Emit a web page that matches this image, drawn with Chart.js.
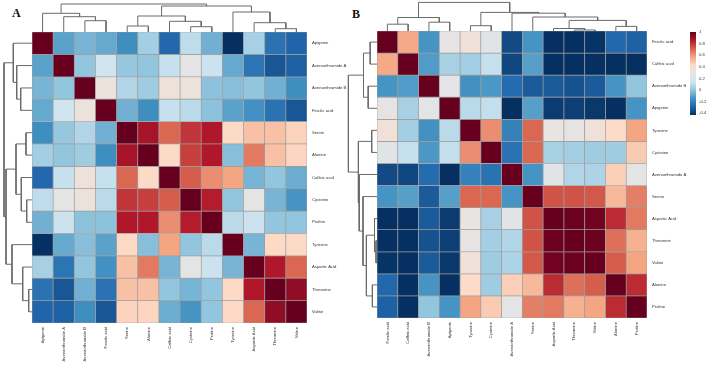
<!DOCTYPE html>
<html>
<head>
<meta charset="utf-8">
<script src="https://cdn.jsdelivr.net/npm/chart.js@4.4.1/dist/chart.umd.min.js"></script>
<style>
  body { margin: 0; background: #fff; width: 708px; height: 366px; position: relative; overflow: hidden; }
  .box { position: absolute; }
  .box canvas { display: block; }
  .tag { position: absolute; font-family: "Liberation Serif", "DejaVu Serif", serif; font-weight: bold; font-size: 12px; line-height: 12px; color: #111; }
</style>
</head>
<body>
<div class="tag" style="left:12px;top:7px">A</div>
<div class="tag" style="left:352px;top:8px">B</div>

<div class="box" style="left:32px;top:2px"><canvas id="topA" width="275" height="30"></canvas></div>
<div class="box" style="left:2px;top:32px"><canvas id="leftA" width="30" height="291"></canvas></div>
<div class="box" style="left:32px;top:32px"><canvas id="heatA" width="330" height="334"></canvas></div>

<div class="box" style="left:377px;top:1px"><canvas id="topB" width="270" height="30"></canvas></div>
<div class="box" style="left:347px;top:31px"><canvas id="leftB" width="30" height="287"></canvas></div>
<div class="box" style="left:377px;top:31px"><canvas id="heatB" width="331" height="335"></canvas></div>
<div class="box" style="left:690px;top:28px"><canvas id="legendB" width="26" height="91"></canvas></div>

<script>
// --- data: panel A (same order for rows and columns) ---
const namesA = ['Apigenin', 'Avenanthramide A', 'Avenanthramide B', 'Ferulic acid', 'Serine', 'Alanine',
  'Caffeic acid', 'Cysteine', 'Proline', 'Tyrosine', 'Aspartic Acid', 'Threonine', 'Valine'];
const valuesA = [
  [ 1.00, -0.10, -0.05, -0.08, -0.16,  0.04, -0.28,  0.10, -0.06, -0.43,  0.05, -0.25, -0.29],
  [-0.10,  1.00,  0.00,  0.14,  0.01,  0.00,  0.12,  0.27,  0.13, -0.08, -0.24, -0.33, -0.30],
  [-0.05,  0.00,  1.00,  0.32,  0.07,  0.03,  0.33,  0.32, -0.01, -0.02,  0.00, -0.06, -0.16],
  [-0.08,  0.14,  0.32,  1.00, -0.06, -0.16,  0.12,  0.09, -0.01, -0.10, -0.15, -0.25, -0.33],
  [-0.16,  0.01,  0.07, -0.06,  1.00,  0.88,  0.70,  0.80,  0.86,  0.43,  0.50,  0.50,  0.45],
  [ 0.04,  0.00,  0.03, -0.16,  0.88,  1.00,  0.43,  0.78,  0.86, -0.02,  0.66,  0.50,  0.44],
  [-0.28,  0.12,  0.33,  0.12,  0.70,  0.43,  1.00,  0.72,  0.62,  0.57, -0.05,  0.00, -0.07],
  [ 0.10,  0.27,  0.32,  0.09,  0.80,  0.78,  0.72,  1.00,  0.85,  0.00,  0.27, -0.05, -0.14],
  [-0.06,  0.13, -0.01, -0.01,  0.86,  0.86,  0.62,  0.85,  1.00,  0.09,  0.13,  0.00,  0.00],
  [-0.43, -0.08, -0.02, -0.10,  0.43, -0.02,  0.57,  0.00,  0.09,  1.00, -0.05,  0.43,  0.43],
  [ 0.05, -0.24,  0.00, -0.15,  0.50,  0.66, -0.05,  0.27,  0.13, -0.05,  1.00,  0.86,  0.70],
  [-0.25, -0.33, -0.06, -0.25,  0.50,  0.50,  0.00, -0.05,  0.00,  0.43,  0.86,  1.00,  0.92],
  [-0.29, -0.30, -0.16, -0.33,  0.45,  0.44, -0.07, -0.14,  0.00,  0.43,  0.70,  0.92,  1.00]
];
// merges: [left, right, height]; ids >= 13 point to earlier merges
const treeA = [[2, 3, 11.3], [1, 13, 15.3], [0, 14, 18.7], [4, 5, 6], [7, 8, 5.3], [6, 17, 10.7],
  [16, 18, 16], [11, 12, 3.3], [10, 20, 9.3], [9, 21, 20], [19, 22, 26], [15, 23, 28]];

// --- data: panel B ---
const namesB = ['Ferulic acid', 'Caffeic acid', 'Avenanthramide B', 'Apigenin', 'Tyrosine', 'Cysteine',
  'Avenanthramide A', 'Serine', 'Aspartic Acid', 'Threonine', 'Valine', 'Alanine', 'Proline'];
const valuesB = [
  [ 1.00,  0.56, -0.14,  0.28,  0.34,  0.25, -0.36, -0.14, -0.43, -0.43, -0.42, -0.28, -0.30],
  [ 0.56,  1.00, -0.12,  0.05,  0.04,  0.12, -0.37, -0.11, -0.44, -0.43, -0.43, -0.46, -0.44],
  [-0.14, -0.12,  1.00,  0.26, -0.15, -0.13, -0.27, -0.32, -0.32, -0.34, -0.32, -0.14,  0.00],
  [ 0.28,  0.05,  0.26,  1.00,  0.09,  0.11, -0.43, -0.11, -0.40, -0.39, -0.41, -0.43, -0.14],
  [ 0.34,  0.04, -0.15,  0.09,  1.00,  0.62, -0.20,  0.70,  0.29,  0.28,  0.34,  0.42,  0.57],
  [ 0.25,  0.12, -0.13,  0.11,  0.62,  1.00, -0.25,  0.70,  0.05,  0.04,  0.03,  0.03,  0.47],
  [-0.36, -0.37, -0.27, -0.43, -0.20, -0.25,  1.00, -0.14,  0.25,  0.07,  0.06,  0.46,  0.27],
  [-0.14, -0.11, -0.32, -0.11,  0.70,  0.70, -0.14,  1.00,  0.74,  0.74,  0.73,  0.52,  0.65],
  [-0.43, -0.44, -0.32, -0.40,  0.29,  0.05,  0.25,  0.74,  1.00,  0.99,  0.98,  0.82,  0.66],
  [-0.43, -0.43, -0.34, -0.39,  0.28,  0.04,  0.07,  0.74,  0.99,  1.00,  0.99,  0.68,  0.54],
  [-0.42, -0.43, -0.32, -0.41,  0.34,  0.03,  0.06,  0.73,  0.98,  0.99,  1.00,  0.72,  0.57],
  [-0.28, -0.46, -0.14, -0.43,  0.42,  0.03,  0.46,  0.52,  0.82,  0.68,  0.72,  1.00,  0.82],
  [-0.30, -0.44,  0.00, -0.14,  0.57,  0.47,  0.27,  0.65,  0.66,  0.54,  0.57,  0.82,  1.00]
];
const treeB = [[0, 1, 6.8], [2, 3, 8.8], [13, 14, 13.5], [4, 5, 5.3], [9, 10, 1], [8, 17, 2.5],
  [11, 12, 4.6], [18, 19, 10.6], [7, 20, 14], [6, 21, 17.8], [16, 22, 18.6], [15, 23, 28.6]];

// colour key
const legendTicks = [1, 0.8, 0.6, 0.4, 0.2, 0, -0.2, -0.4];
const scaleMin = -0.43, scaleMax = 1;
const palette = ['#053061', '#2166ac', '#4393c3', '#92c5de', '#d1e5f0', '#e6e4e3',
  '#fddbc7', '#f4a582', '#d6604d', '#b2182b', '#67001f'];

Chart.defaults.font.family = "'Liberation Sans', Arial, sans-serif";
Chart.defaults.color = '#333';

function hexToRgb(h) {
  return [parseInt(h.slice(1, 3), 16), parseInt(h.slice(3, 5), 16), parseInt(h.slice(5, 7), 16)];
}

function colorFor(v) {
  let t = (v - scaleMin) / (scaleMax - scaleMin);
  t = Math.max(0, Math.min(1, t)) * (palette.length - 1);
  const i = Math.min(Math.floor(t), palette.length - 2);
  const f = t - i;
  const a = hexToRgb(palette[i]), b = hexToRgb(palette[i + 1]);
  const c = a.map((x, k) => Math.round(x + (b[k] - x) * f));
  return 'rgb(' + c.join(',') + ')';
}

// turn merge list into U-shaped segments: [[leafPos, height], ...]
function dendroSegments(merges, n) {
  const pos = [], hgt = [];
  for (let i = 0; i < n; i++) { pos[i] = i; hgt[i] = 0; }
  const segs = [];
  merges.forEach((m, k) => {
    const [a, b, h] = m;
    segs.push([[pos[a], hgt[a]], [pos[a], h], [pos[b], h], [pos[b], hgt[b]]]);
    pos[n + k] = (pos[a] + pos[b]) / 2;
    hgt[n + k] = h;
  });
  return segs;
}

const baseOpts = {
  responsive: false,
  animation: false,
  events: [],
  layout: { padding: 0 },
  plugins: { legend: { display: false }, tooltip: { enabled: false } }
};
const noGrid = { display: false, drawTicks: false };
const labelFont = { size: 4.2 };

function dendrogram(id, merges, n, vertical) {
  const segs = dendroSegments(merges, n);
  const datasets = segs.map(s => ({
    data: s.map(p => vertical ? { x: p[1], y: p[0] } : { x: p[0], y: p[1] }),
    showLine: true,
    borderColor: '#6b6b6b',
    borderWidth: 1,
    pointRadius: 0,
    clip: false
  }));
  const leafAxis = { display: false, min: -0.5, max: n - 0.5 };
  const hAxis = { display: false, min: 0, max: 30 };
  new Chart(document.getElementById(id), {
    type: 'scatter',
    data: { datasets: datasets },
    options: Object.assign({}, baseOpts, {
      scales: vertical
        ? { x: Object.assign({ reverse: true }, hAxis), y: Object.assign({ reverse: true }, leafAxis) }
        : { x: leafAxis, y: hAxis }
    })
  });
}

function heatmap(id, names, values, labelWidth, labelHeight) {
  new Chart(document.getElementById(id), {
    type: 'bar',
    data: {
      labels: names,
      datasets: names.map((rowName, r) => ({
        label: rowName,
        data: names.map(() => [r, r + 1]),
        backgroundColor: values[r].map(colorFor),
        borderColor: '#9e9e9e',
        borderWidth: 0.7,
        borderSkipped: false,
        grouped: false,
        barPercentage: 1,
        categoryPercentage: 1
      }))
    },
    options: Object.assign({}, baseOpts, {
      scales: {
        x: {
          grid: noGrid,
          border: { display: false },
          ticks: { minRotation: 90, maxRotation: 90, autoSkip: false, font: labelFont, padding: 4 },
          afterFit: s => { s.height = labelHeight; s.paddingLeft = 0; s.paddingRight = 0; }
        },
        y: { display: false, min: 0, max: names.length, reverse: true },
        rows: {
          type: 'category',
          labels: names,
          position: 'right',
          offset: true,
          grid: noGrid,
          border: { display: false },
          ticks: { autoSkip: false, font: labelFont, padding: 5 },
          afterFit: s => { s.width = labelWidth; s.paddingTop = 0; s.paddingBottom = 0; }
        }
      }
    })
  });
}

function colourKey(id) {
  new Chart(document.getElementById(id), {
    type: 'bar',
    data: {
      labels: [''],
      datasets: [{
        data: [[scaleMin, scaleMax]],
        backgroundColor: c => {
          const chart = c.chart;
          if (!chart.chartArea) return '#fff';
          const y = chart.scales.y;
          const g = chart.ctx.createLinearGradient(0, y.getPixelForValue(scaleMin), 0, y.getPixelForValue(scaleMax));
          palette.forEach((p, i) => g.addColorStop(i / (palette.length - 1), p));
          return g;
        },
        borderWidth: 0,
        barPercentage: 1,
        categoryPercentage: 1
      }]
    },
    options: Object.assign({}, baseOpts, {
      layout: { padding: { top: 4, bottom: 4 } },
      scales: {
        x: { display: false },
        y: {
          position: 'right',
          min: scaleMin,
          max: scaleMax,
          grid: noGrid,
          border: { display: false },
          afterBuildTicks: s => { s.ticks = legendTicks.map(v => ({ value: v })); },
          ticks: { font: labelFont, padding: 3, callback: v => String(v) },
          afterFit: s => { s.width = 20; s.paddingTop = 0; s.paddingBottom = 0; }
        }
      }
    })
  });
}

dendrogram('topA', treeA, namesA.length, false);
dendrogram('leftA', treeA, namesA.length, true);
heatmap('heatA', namesA, valuesA, 55, 43);

dendrogram('topB', treeB, namesB.length, false);
dendrogram('leftB', treeB, namesB.length, true);
heatmap('heatB', namesB, valuesB, 61, 48);
colourKey('legendB');
</script>
</body>
</html>
